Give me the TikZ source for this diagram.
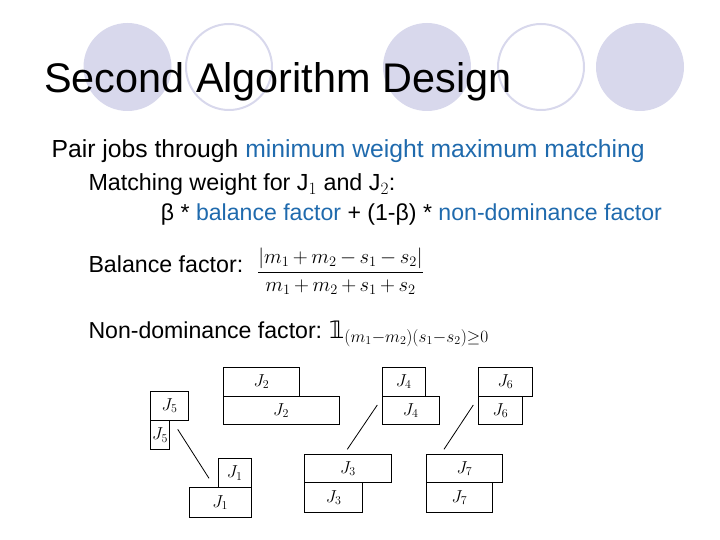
\documentclass[tikz,border=0pt]{standalone}
\usepackage{fontspec,amsmath,amssymb,xcolor}
\setmainfont{Liberation Sans}
\newfontfamily\dejavu{DejaVu Sans}
\definecolor{bubble}{RGB}{216,216,236}
\definecolor{keyblue}{RGB}{31,106,173}
\newcommand{\indone}{\mbox{\dejavu 𝟙}}
\tikzset{
  jobbox/.style={draw, line width=0.8pt, inner sep=0pt, anchor=north west,
    font=\fontsize{16.5}{16.5}\selectfont},
  pairline/.style={line width=0.8pt},
  slidetext/.style={anchor=base west, inner sep=0pt}
}
\begin{document}
\begin{tikzpicture}[x=1pt,y=-1pt]
        \useasboundingbox (0,0) rectangle (720,540);
        % background bubbles
        \foreach \cx in {127.5, 427, 640}
            \fill[bubble] (\cx,67) circle (44);
        \foreach \cx in {229, 541}
            \draw[bubble, line width=2pt] (\cx,67) circle (43);

        \node[slidetext, font=\fontsize{41.4}{45}\selectfont] (title) at (44,93) {Second Algorithm Design};

        \node[slidetext, font=\fontsize{24.7}{28}\selectfont] (pair) at (51.5,158)
            {Pair jobs through \textcolor{keyblue}{minimum weight maximum matching}};
        \node[slidetext, font=\fontsize{23.3}{26}\selectfont] (weight) at (88.3,191)
            {Matching weight for J$_1$ and J$_2$:};
        \node[slidetext, font=\fontsize{23.1}{26}\selectfont] (formula) at (160.7,221)
            {β * \textcolor{keyblue}{balance factor} + (1-β) * \textcolor{keyblue}{non-dominance factor}};

        \node[slidetext, font=\fontsize{23.2}{26}\selectfont] (bal) at (88.3,272) {Balance factor:};
        \node[anchor=west, inner sep=0pt, font=\fontsize{20}{24}\selectfont] (balfrac) at (257,271)
            {\medmuskip=3mu$\displaystyle\frac{|m_1+m_2-s_1-s_2|}{m_1+m_2+s_1+s_2}$};

        \node[slidetext, font=\fontsize{23.1}{26}\selectfont] (dom) at (88.3,338) {Non-dominance factor:};
        \node[slidetext, font=\fontsize{24}{26}\selectfont] (domind) at (329,338)
            {\medmuskip=1mu\thickmuskip=2mu$\indone_{(m_1-m_2)(s_1-s_2)\geq 0}$};

        % job pairs
        \foreach \n/\x/\y/\w/\h/\j in {j2a/222.7/366.7/76.6/29.3/2, j2b/222.7/396/116/28.3/2,
                j4a/381.7/366.7/43.3/29.3/4, j4b/381.7/396/57.3/28.3/4,
                j6a/478.3/366.7/53.4/29.3/6, j6b/478.3/396/43.4/28.3/6,
                j5a/150/390.7/38.3/29.3/5, j5b/150/420/19.3/29/5,
                j1a/217.7/458.3/33.3/29/1, j1b/188.7/487.3/62.3/29.4/1,
                j3a/304.3/453.7/86.4/28.6/3, j3b/304.3/482.3/58/29.4/3,
                j7a/425.7/453.7/76.6/28.6/7, j7b/425.7/482.3/66.6/29.4/7}
            \node[jobbox, minimum width=\w pt, minimum height=\h pt] (\n) at (\x,\y) {$J_{\j}$};

        % matched pairs
        \coordinate (m5) at (177.7,429.3);  \coordinate (m1) at (209,478.3);
        \coordinate (m4) at (377.3,405);    \coordinate (m3) at (347.3,449.3);
        \coordinate (m6) at (473.3,405);    \coordinate (m7) at (444,449.3);
        \draw[pairline] (m5) -- (m1);
        \draw[pairline] (m4) -- (m3);
        \draw[pairline] (m6) -- (m7);
\end{tikzpicture}
\end{document}
